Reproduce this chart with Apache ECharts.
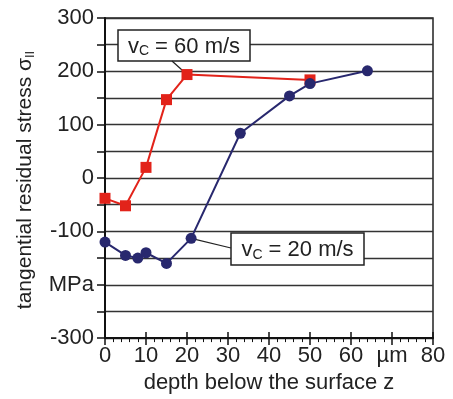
<!DOCTYPE html>
<html>
<head>
<meta charset="utf-8">
<script src="https://cdn.jsdelivr.net/npm/echarts@6/dist/echarts.min.js"></script>
<style>
  html, body { margin: 0; padding: 0; background: #fff; }
  #chart { width: 453px; height: 399px; }
</style>
</head>
<body>
<div id="chart"></div>
<script>
// depth below the surface z in µm, tangential residual stress in MPa
let depth60 = [0, 5, 10, 15, 20, 50];
let stress60 = [-38, -52, 20, 147, 194, 184];
let depth20 = [0, 5, 8, 10, 15, 21, 33, 45, 50, 64];
let stress20 = [-120, -145, -150, -140, -160, -113, 84, 154, 177, 201];

function pairs(xs, ys) {
    return xs.map(function (x, i) { return [x, ys[i]]; });
}

let font = 'Liberation Sans, Arial, sans-serif';
let red = '#e2231a';
let blue = '#28286e';

let chart = echarts.init(document.getElementById('chart'));

let option = {
    animation: false,
    backgroundColor: '#fff',
    grid: {
        left: 105, top: 18, right: 20, bottom: 55,
        show: true,
        borderColor: '#222',
        borderWidth: 1.5
    },
    xAxis: [{
        type: 'value',
        min: 0, max: 80, interval: 10,
        axisLine: { onZero: false, lineStyle: { color: '#111', width: 2 } },
        axisTick: { length: 7, lineStyle: { color: '#111', width: 1.5 } },
        minorTick: { show: true, splitNumber: 5, length: 4, lineStyle: { color: '#111', width: 1 } },
        splitLine: { show: false },
        axisLabel: {
            margin: 7,
            fontFamily: font, fontSize: 22, color: '#222',
            formatter: function (v) { return v === 70 ? 'µm' : String(v); }
        },
        name: 'depth below the surface z',
        nameLocation: 'middle',
        nameGap: 29,
        nameTextStyle: { fontFamily: font, fontSize: 22, color: '#222' }
    }, {
        // inner half of the major ticks
        type: 'value',
        position: 'bottom',
        min: 0, max: 80, interval: 10,
        axisLine: { show: false, onZero: false },
        axisTick: { inside: true, length: 6, lineStyle: { color: '#111', width: 1.5 } },
        axisLabel: { show: false },
        splitLine: { show: false }
    }],
    yAxis: {
        type: 'value',
        min: -300, max: 300, interval: 50,
        axisLine: { onZero: false, lineStyle: { color: '#111', width: 2 } },
        axisTick: { length: 8, lineStyle: { color: '#111', width: 1.5 } },
        splitLine: { lineStyle: { color: '#333', width: 1.3 } },
        axisLabel: {
            margin: 11,
            fontFamily: font, fontSize: 22, color: '#222',
            formatter: function (v) {
                if (v % 100 !== 0) return '';
                if (v === -200) return 'MPa';
                return String(v);
            }
        }
    },
    series: [{
        name: 'vc = 60 m/s',
        type: 'line',
        data: pairs(depth60, stress60),
        symbol: 'rect',
        symbolSize: 11,
        lineStyle: { color: red, width: 2 },
        itemStyle: { color: red },
        z: 5
    }, {
        name: 'vc = 20 m/s',
        type: 'line',
        data: pairs(depth20, stress20),
        symbol: 'circle',
        symbolSize: 11,
        lineStyle: { color: blue, width: 2 },
        itemStyle: { color: blue },
        z: 6
    }]
};
chart.setOption(option);

function labelBox(x, y, w, h, num) {
    return {
        type: 'group',
        z: 20,
        children: [{
            type: 'rect',
            shape: { x: x, y: y, width: w, height: h },
            style: { fill: '#fff', stroke: '#222', lineWidth: 1.5 }
        }, {
            type: 'text',
            x: x + w / 2, y: y + h / 2 + 1,
            style: {
                text: '{a|v}{s|C}{a| = ' + num + ' m/s}',
                align: 'center', verticalAlign: 'middle',
                rich: {
                    a: { fontFamily: font, fontSize: 22, fill: '#222', lineHeight: 24 },
                    s: { fontFamily: font, fontSize: 14, fill: '#222', lineHeight: 24, verticalAlign: 'bottom', padding: [10, 0, 0, 0] }
                }
            }
        }]
    };
}

let p60 = chart.convertToPixel({ gridIndex: 0 }, [depth60[4], stress60[4]]);
let p20 = chart.convertToPixel({ gridIndex: 0 }, [depth20[5], stress20[5]]);

chart.setOption({
    graphic: [
        {
            type: 'text',
            x: 25, y: 180,
            rotation: Math.PI / 2,
            style: {
                text: '{a|tangential residual stress σ}{s|II}',
                align: 'center', verticalAlign: 'middle',
                rich: {
                    a: { fontFamily: font, fontSize: 21, fill: '#222', lineHeight: 24 },
                    s: { fontFamily: font, fontSize: 13, fill: '#222', lineHeight: 24, verticalAlign: 'bottom' }
                }
            }
        },
        {
            type: 'line', z: 3,
            shape: { x1: 172, y1: 61, x2: p60[0], y2: p60[1] },
            style: { stroke: '#222', lineWidth: 1.2 }
        },
        {
            type: 'line', z: 3,
            shape: { x1: 231, y1: 248, x2: p20[0], y2: p20[1] },
            style: { stroke: '#222', lineWidth: 1.2 }
        },
        labelBox(118, 30, 132, 31, 60),
        labelBox(231, 233, 133, 32, 20)
    ]
});
</script>
</body>
</html>
